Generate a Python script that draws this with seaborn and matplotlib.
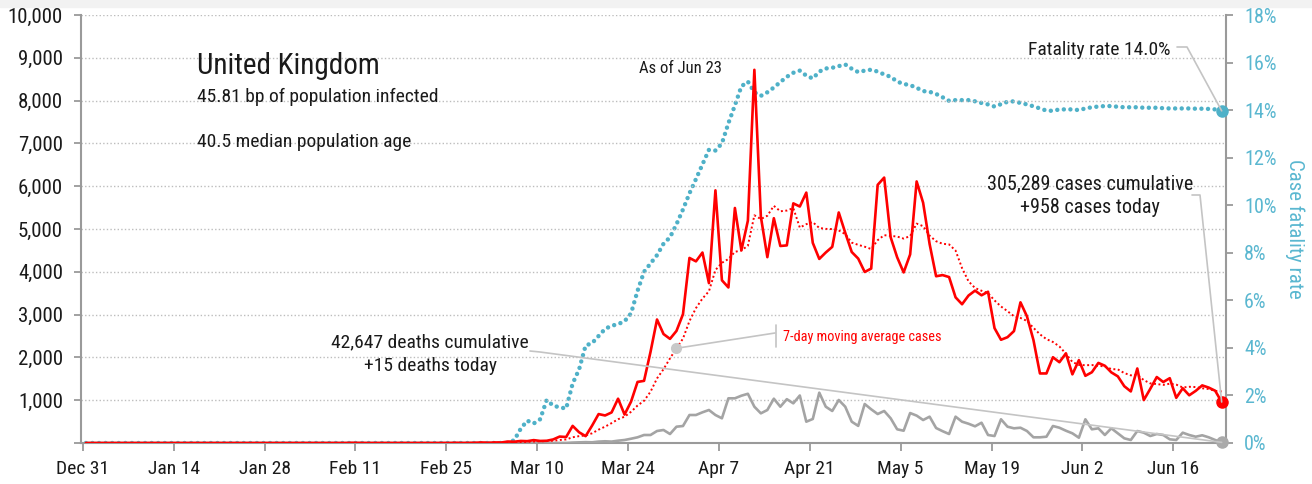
"""
United Kingdom — daily cases, deaths and case fatality rate (as of Jun 23)
"""

import numpy as np
import pandas as pd
import matplotlib
matplotlib.use("Agg")
import matplotlib.pyplot as plt
from matplotlib import font_manager
from matplotlib.lines import Line2D
import seaborn as sns

# -------------------------
# DATA
# -------------------------
# daily new cases, Dec 31 .. Jun 23
cases_dec = [0]
cases_jan = [0, 0, 0, 0, 0, 0, 0, 0, 0, 0, 0, 0, 0, 0, 0, 0,
             0, 0, 0, 0, 0, 0, 0, 0, 0, 0, 0, 0, 0, 0, 2]
cases_feb = [0, 0, 0, 0, 0, 1, 0, 0, 0, 4, 1, 0, 1, 0, 0,
             0, 0, 0, 0, 0, 0, 0, 0, 0, 0, 4, 0, 2, 5]
cases_mar = [12, 4, 13, 11, 34, 30, 48, 43, 67, 48, 52, 83, 150, 140, 400, 250,
             160, 407, 676, 643, 714, 1035, 665, 967, 1427, 1452, 2129, 2885, 2546, 2433, 2619]
cases_apr = [3009, 4324, 4244, 4450, 3735, 5903, 3802, 3634, 5491, 4500, 5195, 8719, 5288, 4342, 5252,
             4603, 4617, 5599, 5525, 5850, 4676, 4301, 4451, 4583, 5386, 4913, 4463, 4309, 3996, 4076]
cases_may = [6032, 6201, 4806, 4339, 3985, 4406, 6111, 5614, 4649, 3896, 3923, 3877, 3403, 3242, 3446, 3560,
             3451, 3534, 2684, 2412, 2472, 2615, 3287, 2959, 2405, 1625, 1625, 2004, 1887, 2095, 1604]
cases_jun = [1936, 1570, 1653, 1871, 1805, 1650, 1557, 1326, 1205, 1741, 1003, 1266,
             1541, 1425, 1514, 1056, 1279, 1115, 1218, 1346, 1295, 1221, 958]

# daily new deaths
deaths_dec = [0]
deaths_jan = [0] * 31
deaths_feb = [0] * 29
deaths_mar = [0, 0, 0, 0, 0, 1, 0, 1, 0, 3, 0, 2, 1, 1, 10, 14,
              20, 16, 33, 40, 33, 54, 70, 100, 133, 187, 187, 280, 304, 210, 381]
deaths_apr = [397, 654, 654, 717, 771, 654, 577, 1044, 1044, 1105, 1150, 848, 693, 771, 1035,
              848, 1024, 927, 1110, 498, 561, 1176, 848, 748, 1005, 848, 498, 400, 911, 787]
deaths_may = [677, 748, 577, 320, 287, 700, 640, 537, 615, 350, 276, 210, 615, 498, 450, 390,
              474, 187, 163, 554, 381, 343, 357, 280, 133, 133, 147, 397, 357, 287, 226]
deaths_jun = [124, 554, 320, 343, 187, 343, 226, 109, 70, 280, 241, 163,
              210, 187, 86, 70, 241, 187, 147, 180, 133, 70, 15]

# case fatality rate, % (cumulative deaths / cumulative cases)
cfr_dec = [0]
cfr_jan = [0] * 31
cfr_feb = [0] * 29
cfr_mar = [0, 0, 0, 0, 0, 0.12, 0.6, 0.94, 0.82, 1.0, 1.81, 1.57, 1.5, 1.45, 2.5, 3.1,
           4.1, 4.2, 4.5, 4.8, 4.93, 5.0, 5.12, 5.45, 6.4, 7.2, 7.55, 7.9, 8.38, 8.65, 9.2]
cfr_apr = [9.82, 10.5, 11.1, 11.72, 12.33, 12.3, 12.6, 13.45, 14.2, 15.0, 15.2, 14.75, 14.6, 14.75, 14.95,
           15.18, 15.4, 15.57, 15.66, 15.45, 15.33, 15.62, 15.75, 15.78, 15.85, 15.92, 15.74, 15.6, 15.66, 15.7]
cfr_may = [15.62, 15.5, 15.4, 15.2, 15.1, 15.05, 14.94, 14.8, 14.77, 14.68, 14.54, 14.39, 14.42, 14.42, 14.42, 14.37,
           14.3, 14.24, 14.15, 14.25, 14.35, 14.37, 14.3, 14.24, 14.16, 14.07, 13.98, 13.97, 14.03, 14.03, 14.03]
cfr_jun = [14.0, 14.07, 14.12, 14.15, 14.17, 14.17, 14.14, 14.12, 14.12, 14.12, 14.1, 14.1,
           14.1, 14.08, 14.07, 14.07, 14.07, 14.07, 14.06, 14.06, 14.05, 14.03, 13.97]

x_ticks = pd.date_range("2019-12-31", "2020-06-16", freq="14D")
left_ticks = list(range(0, 10001, 1000))
right_ticks = list(range(0, 19, 2))

COUNTRY = "United Kingdom"
INFECTED_BP = 45.81
MEDIAN_AGE = 40.5
AS_OF = "Jun 23"
TOTAL_CASES, NEW_CASES = 305289, 958
TOTAL_DEATHS, NEW_DEATHS = 42647, 15
FATALITY = 14.0

RED = "#ff0000"
GREY = "#a4a4a4"
BLUE = "#4fb1c8"
BLUE_TXT = "#5ab7d0"
LEADER = "#c4c4c4"
INK = "#1a1a1a"

# -------------------------
# FRAME
# -------------------------
cases = cases_dec + cases_jan + cases_feb + cases_mar + cases_apr + cases_may + cases_jun
deaths = deaths_dec + deaths_jan + deaths_feb + deaths_mar + deaths_apr + deaths_may + deaths_jun
cfr = cfr_dec + cfr_jan + cfr_feb + cfr_mar + cfr_apr + cfr_may + cfr_jun

df = pd.DataFrame({
    "date": pd.date_range("2019-12-31 11:00", periods=len(cases), freq="D"),
    "cases": cases,
    "deaths": deaths,
    "cfr": cfr,
})
df["cases_7d"] = df["cases"].rolling(7, min_periods=1).mean()
last = df.iloc[-1]

# -------------------------
# STYLE
# -------------------------
sns.set_theme(style="white")
names = {f.name for f in font_manager.fontManager.ttflist}
FONT = "Roboto Condensed" if "Roboto Condensed" in names else "Liberation Sans Narrow"
plt.rcParams["font.family"] = [FONT, "DejaVu Sans"]
plt.rcParams["text.color"] = INK

W, H = 1312, 484
fig = plt.figure(figsize=(W / 100, H / 100), dpi=100)
ax = fig.add_axes([81 / W, 1 - 443 / H, 1145 / W, 428 / H])
ax2 = ax.twinx()
ax.set_zorder(2)
ax2.set_zorder(1)
ax.patch.set_visible(False)

# -------------------------
# SERIES
# -------------------------
sns.lineplot(data=df, x="date", y="cfr", ax=ax2, color=BLUE, lw=3.2,
             linestyle=(0, (0.01, 1.47)), dash_capstyle="round")
sns.lineplot(data=df, x="date", y="deaths", ax=ax, color=GREY, lw=1.9, zorder=3)
sns.lineplot(data=df, x="date", y="cases_7d", ax=ax, color=RED, lw=1.4,
             linestyle=(0, (1, 1.3)), zorder=4)
sns.lineplot(data=df, x="date", y="cases", ax=ax, color=RED, lw=1.9, zorder=5)

ax.plot(last["date"], last["cases"], "o", color=RED, ms=8, zorder=6, clip_on=False)
ax.plot(last["date"], last["deaths"], "o", color="#aaaaaa", ms=8, zorder=6, clip_on=False)
ax2.plot(last["date"], last["cfr"], "o", color=BLUE, ms=8, zorder=6, clip_on=False)

# -------------------------
# AXES
# -------------------------
ax.set_xlim(pd.Timestamp("2019-12-30 17:00"), pd.Timestamp("2020-06-24 03:00"))
ax.set_ylim(0, 10000)
ax2.set_ylim(0, 18)

ax.set_xticks(x_ticks)
ax.set_xticklabels([f"{d:%b} {d.day}" for d in x_ticks])
ax.set_yticks(left_ticks)
ax.set_yticklabels(["" if v == 0 else f"{v:,}" for v in left_ticks])
ax2.set_yticks(right_ticks)
ax2.set_yticklabels([f"{v}%" for v in right_ticks])

ax.set_xlabel("")
ax.set_ylabel("")
ax2.set_xlabel("")
ax2.set_ylabel("Case fatality rate", color=BLUE_TXT, fontsize=15, rotation=270, labelpad=20)

ax.yaxis.grid(True, color="#bdbdbd", lw=1.0, linestyle=(0, (1, 1.6)))
ax.xaxis.grid(False)
ax2.grid(False)

for a in (ax, ax2):
    for s in a.spines.values():
        s.set_visible(False)
ax.spines["left"].set_visible(True)
ax.spines["bottom"].set_visible(True)
ax2.spines["right"].set_visible(True)
for s in (ax.spines["left"], ax.spines["bottom"], ax2.spines["right"]):
    s.set_color("#9a9a9a")
    s.set_linewidth(1.5)

ax.tick_params(axis="x", length=6, width=1.3, color="#9a9a9a", labelsize=14, pad=6, labelcolor=INK, bottom=True)
ax.tick_params(axis="y", length=5, width=1.3, color="#9a9a9a", labelsize=15, pad=8, labelcolor=INK, left=True)
ax2.tick_params(axis="y", length=5, width=1.3, color="#9a9a9a", labelsize=14.5, pad=8, labelcolor=BLUE_TXT, right=True)

# -------------------------
# TEXT & LEADERS (pixel positions)
# -------------------------
def fx(x):
    return x / W


def fy(y):
    return 1 - y / H


def to_fig(a, x, y):
    X, Y = a.transData.transform((matplotlib.dates.date2num(x), y))
    return X / W, Y / H


def leader(points):
    xs, ys = zip(*points)
    fig.add_artist(Line2D(xs, ys, transform=fig.transFigure, color=LEADER, lw=1.2, zorder=10))


fig.text(fx(197), fy(74), COUNTRY, fontsize=21, ha="left", va="baseline")
fig.text(fx(197), fy(102), f"{INFECTED_BP} bp of population infected", fontsize=14, ha="left", va="baseline")
fig.text(fx(197), fy(147), f"{MEDIAN_AGE} median population age", fontsize=14, ha="left", va="baseline")
fig.text(fx(680), fy(73), f"As of {AS_OF}", fontsize=12, ha="center", va="baseline")

fig.text(fx(1171), fy(55), f"Fatality rate {FATALITY:.1f}%", fontsize=14, ha="right", va="baseline")
leader([(fx(1177), fy(47)), (fx(1187), fy(47)), to_fig(ax2, last["date"], last["cfr"])])

fig.text(fx(1090), fy(190), f"{TOTAL_CASES:,} cases cumulative", fontsize=14.5, ha="center", va="baseline")
fig.text(fx(1090), fy(213), f"+{NEW_CASES:,} cases today", fontsize=14.5, ha="center", va="baseline")
leader([(fx(1192), fy(195)), (fx(1200), fy(195)), to_fig(ax, last["date"], last["cases"])])

fig.text(fx(430), fy(347), f"{TOTAL_DEATHS:,} deaths cumulative", fontsize=14, ha="center", va="baseline")
fig.text(fx(430), fy(371), f"+{NEW_DEATHS} deaths today", fontsize=14, ha="center", va="baseline")
leader([(fx(530), fy(351)), (fx(540), fy(352)), to_fig(ax, last["date"], last["deaths"])])

ma_row = df.loc[df["date"].dt.strftime("%m-%d") == "03-31"].iloc[0]
mx, my = to_fig(ax, ma_row["date"], ma_row["cases_7d"])
fig.add_artist(Line2D([mx], [my], marker="o", ms=7, color="#c8c8c8", transform=fig.transFigure, zorder=11))
leader([(mx, my), (fx(775), fy(333))])
leader([(fx(776), fy(325)), (fx(776), fy(347))])
fig.text(fx(783), fy(341), "7-day moving average cases", fontsize=10.3, color=RED, ha="left", va="baseline")

# top page band
fig.add_artist(plt.Rectangle((0, fy(7)), 1, 7 / H, transform=fig.transFigure, color="#f2f2f2", zorder=0))

fig.savefig("out.png", dpi=100)
plt.close(fig)
